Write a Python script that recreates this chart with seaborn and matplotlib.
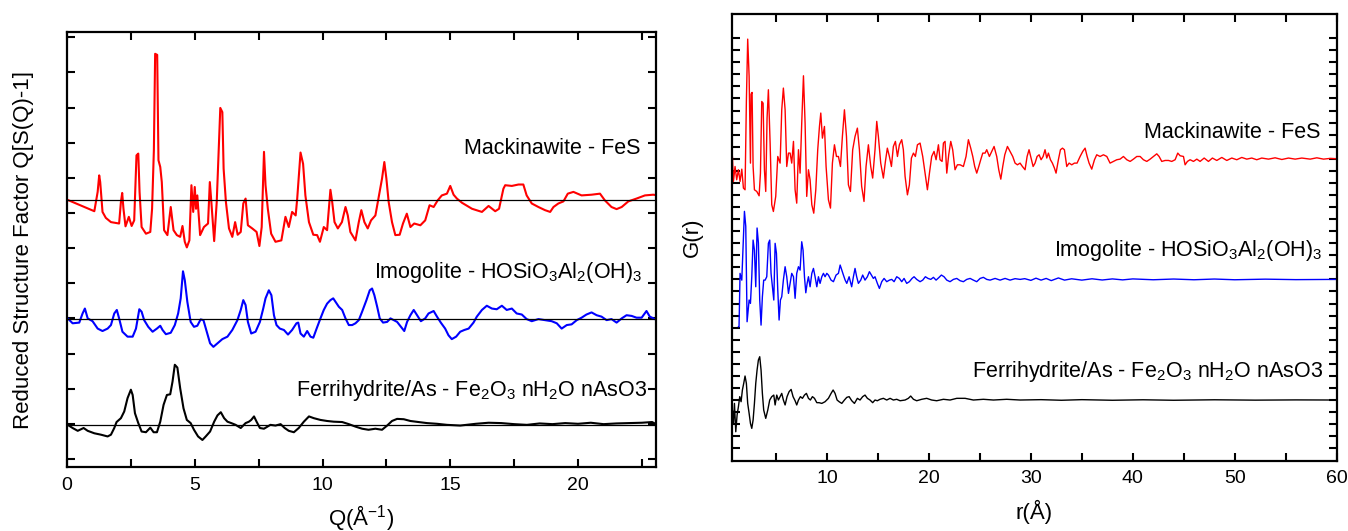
import numpy as np
import pandas as pd
import matplotlib
matplotlib.use('Agg')
import matplotlib.pyplot as plt
import seaborn as sns

# ---------------------------------------------------------------
# Reduced structure factor Q[S(Q)-1], values relative to each baseline
# ---------------------------------------------------------------
fes_q = [0.0, 1.07, 1.20, 1.26, 1.30, 1.39, 1.52, 1.72, 2.04, 2.11,
         2.16, 2.21, 2.29, 2.42, 2.53, 2.63, 2.72, 2.79, 2.84, 2.92,
         3.09, 3.26, 3.33, 3.40, 3.45, 3.53, 3.58, 3.65, 3.71, 3.80,
         3.93, 4.06, 4.17, 4.30, 4.43, 4.52, 4.61, 4.69, 4.79, 4.87,
         4.94, 5.00, 5.05, 5.10, 5.21, 5.36, 5.52, 5.59, 5.65, 5.76,
         5.86, 5.94, 6.00, 6.08, 6.13, 6.22, 6.34, 6.47, 6.58, 6.68,
         6.80, 6.90, 6.99, 7.08, 7.25, 7.42, 7.53, 7.62, 7.71, 7.77,
         7.86, 7.99, 8.16, 8.39, 8.55, 8.68, 8.81, 8.95, 9.01, 9.14,
         9.24, 9.33, 9.47, 9.64, 9.79, 9.90, 10.05, 10.18, 10.31, 10.38,
         10.47, 10.60, 10.76, 10.90, 10.99, 11.09, 11.29, 11.42, 11.52, 11.64,
         11.77, 11.90, 12.07, 12.20, 12.33, 12.42, 12.50, 12.59, 12.72, 12.85,
         13.02, 13.15, 13.30, 13.44, 13.59, 13.83, 14.02, 14.19, 14.35, 14.51,
         14.67, 14.87, 15.00, 15.13, 15.26, 15.46, 15.85, 16.24, 16.50, 16.76,
         16.91, 17.08, 17.15, 17.41, 17.67, 17.86, 17.99, 18.19, 18.45, 18.71,
         18.91, 19.04, 19.23, 19.43, 19.60, 19.82, 20.14, 20.53, 20.86, 21.05,
         21.31, 21.51, 21.71, 21.97, 22.29, 22.62, 22.94, 23.16]
fes_s = [0.00, -0.33, 0.22, 0.69, 0.50, -0.35, -0.52, -0.64, -0.68, -0.07,
         0.19, -0.26, -0.76, -0.49, -0.75, -0.59, 1.26, 1.31, 0.22, -0.78,
         -0.97, -0.92, -0.26, 1.40, 4.15, 4.12, 1.12, 0.93, 0.50, -0.87,
         -1.01, -0.21, -0.87, -1.01, -1.06, -0.75, -1.20, -1.36, -1.16, 0.41,
         -0.35, 0.36, -0.26, 0.12, -1.01, -0.78, -0.68, 0.50, -0.07, -1.18,
         -0.07, 1.45, 2.61, 2.49, 0.88, -0.07, -0.82, -1.06, -0.64, -1.00,
         -0.92, -0.11, 0.03, -0.73, -0.82, -0.92, -1.32, -0.78, 1.36, 0.41,
         -0.26, -0.97, -1.20, -1.16, -0.49, -0.78, -0.35, -0.45, 0.03, 1.34,
         1.02, 0.12, -0.64, -1.00, -1.01, -1.20, -0.78, -0.87, 0.28, -0.07,
         -0.64, -0.82, -0.64, -0.21, -0.45, -0.92, -1.16, -0.64, -0.30, -0.64,
         -0.82, -0.59, -0.45, 0.08, 0.60, 1.07, 0.60, -0.07, -0.64, -1.01,
         -1.00, -0.68, -0.40, -0.78, -0.68, -0.73, -0.59, -0.16, -0.21, -0.02,
         0.12, 0.17, 0.39, 0.14, 0.03, -0.09, -0.26, -0.35, -0.18, -0.33,
         -0.26, 0.31, 0.41, 0.39, 0.43, 0.43, 0.12, -0.11, -0.21, -0.30,
         -0.35, -0.21, -0.11, -0.05, 0.17, 0.22, 0.12, 0.14, 0.17, -0.02,
         -0.21, -0.27, -0.21, -0.05, 0.03, 0.12, 0.14, 0.12]

imo_q = [0.03, 0.22, 0.48, 0.61, 0.70, 0.81, 1.00, 1.20, 1.39, 1.59,
         1.72, 1.85, 1.95, 2.04, 2.17, 2.37, 2.57, 2.70, 2.83, 2.92,
         3.02, 3.18, 3.35, 3.52, 3.65, 3.74, 3.87, 4.06, 4.22, 4.35,
         4.45, 4.54, 4.61, 4.71, 4.84, 4.97, 5.10, 5.23, 5.34, 5.47,
         5.60, 5.73, 5.89, 6.08, 6.28, 6.47, 6.67, 6.80, 6.90, 6.99,
         7.08, 7.21, 7.38, 7.55, 7.68, 7.77, 7.90, 8.00, 8.10, 8.20,
         8.33, 8.49, 8.65, 8.81, 8.98, 9.05, 9.14, 9.27, 9.40, 9.53,
         9.64, 9.77, 9.92, 10.05, 10.18, 10.31, 10.42, 10.51, 10.64, 10.77,
         10.90, 11.03, 11.16, 11.29, 11.42, 11.55, 11.72, 11.85, 11.94, 12.03,
         12.14, 12.24, 12.37, 12.53, 12.66, 12.79, 12.92, 13.07, 13.20, 13.31,
         13.44, 13.57, 13.70, 13.85, 14.02, 14.15, 14.35, 14.48, 14.63, 14.80,
         14.93, 15.06, 15.23, 15.39, 15.55, 15.72, 15.91, 16.04, 16.24, 16.43,
         16.63, 16.82, 17.02, 17.21, 17.41, 17.60, 17.80, 17.99, 18.19, 18.45,
         18.71, 18.97, 19.17, 19.36, 19.56, 19.75, 19.95, 20.14, 20.33, 20.53,
         20.73, 20.92, 21.12, 21.31, 21.51, 21.71, 21.90, 22.10, 22.29, 22.49,
         22.68, 22.81, 23.01, 23.16]
imo_s = [0.03, -0.11, -0.09, 0.17, 0.31, 0.03, -0.05, -0.26, -0.33, -0.26,
         -0.16, 0.17, 0.27, 0.03, -0.35, -0.49, -0.49, -0.26, 0.29, 0.22,
         -0.02, -0.21, -0.35, -0.26, -0.18, -0.30, -0.42, -0.38, -0.16, 0.17,
         0.60, 1.37, 1.12, 0.50, -0.07, -0.21, -0.18, 0.00, -0.02, -0.35,
         -0.68, -0.78, -0.68, -0.56, -0.49, -0.30, -0.02, 0.27, 0.55, 0.41,
         -0.07, -0.40, -0.35, -0.07, 0.31, 0.60, 0.83, 0.69, 0.12, -0.16,
         -0.26, -0.30, -0.43, -0.30, -0.11, -0.09, -0.40, -0.49, -0.33, -0.49,
         -0.52, -0.26, 0.03, 0.27, 0.45, 0.55, 0.60, 0.50, 0.36, 0.27,
         0.03, -0.16, -0.16, -0.11, -0.02, 0.22, 0.55, 0.83, 0.88, 0.69,
         0.36, 0.03, -0.09, -0.07, 0.03, -0.02, -0.07, -0.21, -0.33, -0.07,
         0.12, 0.27, 0.12, -0.05, 0.03, 0.17, 0.24, 0.08, -0.09, -0.26,
         -0.45, -0.56, -0.49, -0.35, -0.30, -0.26, -0.09, 0.08, 0.27, 0.39,
         0.31, 0.29, 0.39, 0.27, 0.31, 0.17, 0.14, 0.01, -0.05, 0.01,
         -0.02, -0.05, -0.11, -0.26, -0.16, -0.14, -0.02, 0.05, 0.14, 0.20,
         0.12, 0.08, -0.02, 0.01, -0.09, 0.03, 0.12, 0.10, 0.05, 0.05,
         0.24, 0.08, 0.01, -0.05]

ferri_q = [0.03, 0.22, 0.42, 0.65, 0.81, 1.07, 1.33, 1.59, 1.72, 1.85,
           1.94, 2.11, 2.24, 2.37, 2.50, 2.57, 2.66, 2.79, 2.92, 3.09,
           3.26, 3.39, 3.52, 3.65, 3.78, 3.91, 4.04, 4.13, 4.22, 4.32,
           4.43, 4.56, 4.69, 4.84, 4.97, 5.13, 5.30, 5.43, 5.60, 5.76,
           5.89, 6.02, 6.15, 6.28, 6.43, 6.60, 6.80, 6.99, 7.12, 7.21,
           7.32, 7.42, 7.55, 7.71, 7.96, 8.16, 8.36, 8.52, 8.68, 8.88,
           9.07, 9.27, 9.47, 9.66, 9.92, 10.18, 10.44, 10.77, 11.03, 11.29,
           11.55, 11.80, 12.07, 12.33, 12.53, 12.72, 12.92, 13.18, 13.44, 13.76,
           14.09, 14.48, 14.87, 15.39, 16.0, 16.5, 17.0, 17.5, 18.0, 18.5,
           19.0, 19.5, 20.0, 20.5, 21.0, 21.5, 22.0, 22.5, 22.9, 23.16]
ferri_s = [0.00, -0.09, -0.17, -0.09, -0.17, -0.24, -0.28, -0.33, -0.28, -0.09,
           0.08, 0.19, 0.38, 0.76, 1.00, 0.85, 0.33, 0.05, -0.19, -0.21,
           -0.08, -0.21, -0.21, 0.09, 0.57, 0.85, 0.87, 1.23, 1.71, 1.63,
           1.04, 0.47, 0.14, 0.05, -0.14, -0.33, -0.43, -0.33, -0.19, 0.09,
           0.27, 0.36, 0.19, 0.09, 0.05, 0.00, -0.09, 0.05, 0.09, 0.14,
           0.24, 0.09, -0.09, -0.11, 0.00, -0.02, 0.02, -0.09, -0.17, -0.21,
           -0.09, 0.09, 0.24, 0.19, 0.14, 0.11, 0.09, 0.08, 0.02, -0.05,
           -0.11, -0.14, -0.11, -0.14, -0.02, 0.11, 0.17, 0.16, 0.11, 0.08,
           0.05, 0.03, 0.00, -0.02, 0.03, 0.06, 0.05, 0.02, 0.00, 0.04,
           0.02, 0.05, 0.03, 0.06, 0.02, 0.04, 0.05, 0.06, 0.08, -0.02]

# ---------------------------------------------------------------
# Pair distribution function G(r), values relative to each baseline
# ---------------------------------------------------------------
fes_r = [0.72, 0.82, 0.98, 1.14, 1.31, 1.47, 1.64, 1.80, 1.96, 2.09,
         2.22, 2.36, 2.49, 2.55, 2.65, 2.75, 2.88, 3.11, 3.34, 3.47,
         3.60, 3.73, 3.86, 3.99, 4.12, 4.25, 4.42, 4.58, 4.74, 4.97,
         5.17, 5.40, 5.56, 5.72, 5.89, 6.05, 6.22, 6.38, 6.54, 6.71,
         6.87, 7.03, 7.20, 7.36, 7.52, 7.69, 7.85, 8.01, 8.18, 8.34,
         8.51, 8.70, 8.90, 9.09, 9.26, 9.39, 9.55, 9.75, 9.91, 10.14,
         10.34, 10.53, 10.73, 10.93, 11.12, 11.32, 11.51, 11.71, 11.91, 12.10,
         12.30, 12.52, 12.75, 12.98, 13.18, 13.40, 13.63, 13.83, 14.06, 14.29,
         14.48, 14.71, 14.88, 15.04, 15.27, 15.53, 15.73, 15.92, 16.12, 16.32,
         16.51, 16.71, 16.91, 17.10, 17.33, 17.49, 17.66, 17.89, 18.08, 18.28,
         18.48, 18.67, 18.87, 19.13, 19.39, 19.62, 19.85, 20.05, 20.27, 20.50,
         20.70, 20.93, 21.09, 21.29, 21.42, 21.58, 21.75, 21.94, 22.14, 22.33,
         22.56, 22.79, 23.06, 23.38, 23.64, 23.87, 24.10, 24.30, 24.49, 24.69,
         24.89, 25.08, 25.28, 25.51, 25.67, 25.93, 26.16, 26.39, 26.65, 26.85,
         27.05, 27.24, 27.44, 27.70, 27.96, 28.22, 28.45, 28.68, 28.94, 29.17,
         29.43, 29.63, 29.82, 30.02, 30.22, 30.41, 30.61, 30.81, 31.00, 31.20,
         31.39, 31.56, 31.72, 31.92, 32.11, 32.31, 32.47, 32.70, 32.90, 33.10,
         33.29, 33.52, 33.75, 34.01, 34.27, 34.53, 34.83, 35.09, 35.32, 35.52,
         35.71, 35.97, 36.24, 36.46, 36.79, 37.12, 37.45, 37.77, 38.10, 38.43,
         38.75, 39.08, 39.41, 39.74, 40.06, 40.39, 40.72, 41.04, 41.37, 41.70,
         42.03, 42.35, 42.58, 42.84, 43.17, 43.50, 43.82, 44.15, 44.41, 44.64,
         44.97, 45.13, 45.36, 45.62, 45.95, 46.28, 46.60, 47.00, 47.42, 47.81,
         48.24, 48.73, 49.22, 49.71, 50.20, 50.69, 51.18, 51.67, 52.16, 52.65,
         53.31, 53.96, 54.62, 55.27, 55.93, 56.58, 57.40, 58.05, 58.71, 59.36,
         60.0]
fes_g = [0.19, -1.88, -0.64, -1.74, -0.91, -1.88, -0.86, -2.43, -2.57, 4.75,
         9.92, 6.83, -0.36, 5.36, 5.50, -0.64, -2.57, -2.71, -3.07, -1.19,
         4.75, 4.61, -0.91, -2.71, 3.37, 5.72, 1.30, -3.81, -4.37, -3.12,
         0.19, -0.36, 4.06, 5.86, 4.06, -0.64, 0.47, 0.47, -0.36, 1.44,
         -2.57, -3.68, 0.75, -1.19, 2.95, 6.88, 2.95, -3.12, -0.91, -1.74,
         -3.81, -4.51, -2.57, 0.75, 2.68, 3.79, 1.71, 2.68, -0.64, -3.40,
         -4.09, -0.36, 1.16, 0.19, 0.19, -0.64, 1.85, 4.06, 1.85, -2.16,
         -2.71, 0.75, 1.85, 2.54, 0.75, -2.29, -3.54, -0.64, 1.16, -0.64,
         -1.60, 0.75, 3.10, 1.85, -0.36, -1.60, -0.22, 0.88, 0.19, -0.64,
         1.02, 1.44, 0.19, 1.16, 1.58, 0.75, -1.46, -2.99, -2.16, 0.06,
         0.47, 0.19, 1.16, 1.30, 0.19, -1.19, -2.57, -1.19, 0.19, 0.61,
         -0.08, 1.16, -0.08, -0.22, 1.30, 1.44, -1.19, 0.33, 1.44, 0.75,
         -0.91, -0.50, -0.50, -0.64, 0.19, 1.58, 0.88, 0.19, -0.64, -1.19,
         -0.64, -0.08, 0.47, 0.47, 0.75, 0.19, 0.61, 1.02, 0.19, -0.91,
         -1.69, -0.64, 0.33, 1.02, 0.61, 0.19, -0.36, -0.50, -0.36, -0.64,
         -0.91, 0.19, 0.75, 0.06, -0.64, -0.36, 0.19, 0.33, -0.08, 0.19,
         0.75, 0.06, 0.47, -0.08, -0.36, -0.77, -1.19, -0.08, 0.75, 0.88,
         0.75, -0.64, -0.36, -0.50, -0.36, -0.36, 0.19, 0.61, 0.88, 0.19,
         -0.36, -0.86, -0.08, 0.33, 0.19, 0.33, 0.19, -0.36, -0.22, -0.08,
         -0.03, 0.19, -0.08, -0.22, -0.03, 0.19, 0.19, -0.08, -0.22, -0.03,
         0.19, 0.41, 0.19, -0.22, -0.14, -0.14, -0.22, -0.08, 0.47, 0.25,
         0.19, -0.50, -0.22, -0.08, -0.22, -0.03, -0.22, 0.06, -0.22, 0.06,
         -0.14, 0.11, -0.14, 0.06, -0.08, 0.11, -0.03, 0.06, -0.08, 0.06,
         -0.03, 0.08, -0.06, 0.06, -0.03, 0.06, -0.03, 0.08, -0.03, 0.03,
         0.00]

imo_r = [1.30, 1.37, 1.47, 1.64, 1.80, 1.90, 2.03, 2.16, 2.36, 2.49,
         2.62, 2.75, 2.88, 3.01, 3.14, 3.27, 3.40, 3.53, 3.66, 3.79,
         3.93, 4.09, 4.25, 4.38, 4.51, 4.65, 4.78, 4.91, 5.04, 5.17,
         5.30, 5.43, 5.56, 5.72, 5.89, 6.05, 6.22, 6.38, 6.54, 6.71,
         6.87, 7.03, 7.20, 7.36, 7.52, 7.65, 7.79, 7.92, 8.05, 8.18,
         8.34, 8.51, 8.67, 8.83, 9.00, 9.16, 9.32, 9.49, 9.65, 9.81,
         9.98, 10.14, 10.40, 10.63, 10.89, 11.12, 11.29, 11.45, 11.61, 11.78,
         11.94, 12.17, 12.42, 12.59, 12.75, 12.91, 13.08, 13.31, 13.50, 13.73,
         13.96, 14.16, 14.35, 14.55, 14.71, 14.94, 15.14, 15.37, 15.60, 15.86,
         16.12, 16.35, 16.58, 16.84, 17.10, 17.33, 17.56, 17.82, 18.08, 18.34,
         18.54, 18.80, 19.13, 19.39, 19.65, 19.91, 20.18, 20.44, 20.70, 20.96,
         21.22, 21.48, 21.75, 22.07, 22.40, 22.73, 23.06, 23.38, 23.71, 24.04,
         24.36, 24.69, 25.02, 25.34, 25.67, 26.00, 26.49, 26.98, 27.47, 27.96,
         28.45, 28.94, 29.4, 30.0, 30.5, 31.0, 31.5, 32.0, 32.7, 33.3,
         34.0, 35.0, 36.0, 37.0, 38.0, 39.0, 40.0, 42.0, 44.0, 46.0,
         48.0, 50.0, 53.0, 56.0, 60.0]
imo_g = [-3.92, -3.92, 0.50, -0.06, 3.54, 5.64, 4.40, -3.51, -1.71, -1.99,
         0.22, 3.26, 2.43, -0.61, 4.26, 3.03, -1.71, -3.79, -1.44, -0.06,
         -0.06, 0.22, 2.99, 3.26, 0.50, -0.61, -1.71, 2.99, 2.16, -0.88,
         -3.37, -1.71, -1.44, -0.06, 1.05, 0.22, -1.16, -0.33, 0.50, 0.22,
         -1.57, 0.50, 1.05, 0.77, 3.12, 2.43, 0.22, -1.11, -0.33, 0.22,
         -0.61, 0.50, 0.91, 0.22, -0.61, 0.22, -0.33, 0.22, 0.50, 0.22,
         0.50, 0.36, -0.06, -0.19, 0.36, 0.50, 1.19, 0.77, 0.36, -0.06,
         -0.33, 0.22, -0.61, 0.22, 0.91, 0.22, -0.33, -0.06, 0.36, -0.06,
         0.22, 0.64, 0.36, 0.08, 0.22, -0.33, -0.75, -0.19, 0.08, -0.19,
         -0.06, 0.00, -0.19, 0.22, 0.08, -0.19, 0.08, -0.33, -0.19, 0.08,
         0.22, 0.00, -0.19, -0.06, 0.22, 0.08, 0.00, 0.17, -0.06, 0.14,
         0.36, 0.22, -0.06, -0.19, 0.00, 0.08, -0.11, -0.19, 0.00, 0.08,
         -0.06, -0.19, 0.08, 0.17, 0.00, -0.06, 0.08, -0.06, 0.08, -0.06,
         0.06, 0.00, 0.06, -0.08, 0.10, -0.06, 0.08, -0.10, 0.12, -0.06,
         0.05, -0.06, 0.05, -0.05, 0.04, -0.04, 0.04, -0.03, 0.03, -0.03,
         0.03, -0.03, 0.02, -0.02, 0.00]

ferri_r = [0.72, 0.82, 0.92, 1.05, 1.18, 1.31, 1.44, 1.57, 1.70, 1.83,
           1.96, 2.09, 2.22, 2.36, 2.49, 2.62, 2.75, 2.88, 3.01, 3.14,
           3.27, 3.40, 3.53, 3.66, 3.79, 3.99, 4.19, 4.38, 4.58, 4.78,
           4.91, 5.07, 5.23, 5.40, 5.56, 5.72, 5.89, 6.08, 6.28, 6.48,
           6.67, 6.87, 7.03, 7.20, 7.39, 7.59, 7.79, 7.98, 8.18, 8.37,
           8.57, 8.77, 9.00, 9.22, 9.49, 9.81, 10.14, 10.40, 10.60, 10.79,
           10.99, 11.19, 11.45, 11.71, 11.94, 12.17, 12.43, 12.69, 12.98, 13.24,
           13.50, 13.73, 13.96, 14.22, 14.48, 14.71, 14.94, 15.20, 15.53, 15.86,
           16.19, 16.51, 16.84, 17.17, 17.66, 17.98, 18.21, 18.48, 18.80, 19.29,
           19.78, 20.27, 20.76, 21.42, 22.07, 22.73, 23.55, 24.36, 25.34, 26.33,
           27.63, 28.94, 31.0, 33.0, 35.0, 38.0, 41.0, 44.0, 48.0, 52.0,
           56.0, 60.0]
ferri_g = [-0.83, -1.94, -0.28, -2.63, -1.24, -0.55, 0.28, -0.14, 0.83, 1.38,
           1.99, 1.38, -0.28, -1.11, -1.94, -2.35, -1.66, -0.28, 1.38, 2.49,
           3.32, 3.59, 2.49, 0.55, -0.83, -1.52, -0.83, 0.00, 0.28, 0.41,
           -0.41, 0.41, 0.00, 0.28, 0.55, 0.00, -0.41, 0.28, 0.69, 0.88,
           0.28, -0.06, -0.41, 0.00, 0.28, 0.14, 0.41, 0.55, 0.14, 0.00,
           0.28, 0.14, -0.22, -0.22, -0.28, -0.14, 0.14, 0.55, 0.83, 0.55,
           0.00, -0.14, -0.28, 0.00, 0.22, 0.28, -0.06, -0.28, 0.14, 0.00,
           0.28, 0.41, 0.14, 0.00, -0.22, 0.00, -0.06, 0.06, 0.14, 0.00,
           0.14, 0.00, 0.06, -0.06, 0.00, 0.14, 0.33, 0.06, -0.06, 0.06,
           0.14, 0.00, -0.06, 0.06, 0.00, 0.14, 0.14, 0.00, 0.06, 0.00,
           0.06, 0.00, 0.03, -0.02, 0.03, -0.02, 0.02, -0.02, 0.02, -0.01,
           0.01, 0.00]

# vertical offsets of the stacked curves
sq_offsets = {'fes': 7.38, 'imo': 3.97, 'ferri': 0.97}
gr_offsets = {'fes': 24.0, 'imo': 14.0, 'ferri': 4.0}

labels = {
    'fes': 'Mackinawite - FeS',
    'imo': 'Imogolite - HOSiO$_3$Al$_2$(OH)$_3$',
    'ferri': 'Ferrihydrite/As - Fe$_2$O$_3$ nH$_2$O nAsO3',
}
colors = {'fes': '#ff0000', 'imo': '#0000ff', 'ferri': '#000000'}

sns.set_style('ticks')
plt.rcParams['font.family'] = ['Liberation Sans', 'DejaVu Sans']
plt.rcParams['mathtext.fontset'] = 'custom'
plt.rcParams['mathtext.rm'] = 'Liberation Sans'
plt.rcParams['mathtext.it'] = 'Liberation Sans:italic'
plt.rcParams['mathtext.bf'] = 'Liberation Sans:bold'
plt.rcParams['text.color'] = 'black'
plt.rcParams['axes.labelcolor'] = 'black'

fig = plt.figure(figsize=(13.48, 5.31), dpi=100)
ax1 = fig.add_axes([0.0497, 0.1205, 0.4369, 0.8192])
ax2 = fig.add_axes([0.5428, 0.1324, 0.4488, 0.8412])

# Left panel: reduced structure factor
sq_data = {'fes': (fes_q, fes_s), 'imo': (imo_q, imo_s), 'ferri': (ferri_q, ferri_s)}
for key, (q, s) in sq_data.items():
    df = pd.DataFrame({'Q': q, 'S': np.array(s) + sq_offsets[key]})
    sns.lineplot(data=df, x='Q', y='S', color=colors[key], lw=1.5,
                 estimator=None, sort=False, ax=ax1)
    ax1.axhline(sq_offsets[key], color='black', lw=0.9, zorder=5)

ax1.text(22.45, 8.84, labels['fes'], ha='right', va='center', fontsize=15.5)
ax1.text(22.5, 5.32, labels['imo'], ha='right', va='center', fontsize=15.5)
ax1.text(22.7, 1.96, labels['ferri'], ha='right', va='center', fontsize=15.5)

ax1.set_xlim(0, 23.05)
ax1.set_ylim(-0.23, 12.15)
qt = np.arange(0, 23.1, 2.5)
ax1.set_xticks(qt)
ax1.set_xticklabels([f'{t:g}' if t % 5 == 0 else '' for t in qt])
ax1.set_yticks(np.arange(0, 13))
ax1.set_yticklabels([])
ax1.set_xlabel('Q(Å$^{-1}$)', fontsize=16, labelpad=7)
ax1.set_ylabel('Reduced Structure Factor Q[S(Q)-1]', fontsize=16, labelpad=17)

# Right panel: pair distribution function
gr_data = {'fes': (fes_r, fes_g), 'imo': (imo_r, imo_g), 'ferri': (ferri_r, ferri_g)}
for key, (r, g) in gr_data.items():
    df = pd.DataFrame({'r': r, 'G': np.array(g) + gr_offsets[key]})
    sns.lineplot(data=df, x='r', y='G', color=colors[key], lw=1.0,
                 estimator=None, sort=False, ax=ax2)

ax2.text(58.38, 26.14, labels['fes'], ha='right', va='center', fontsize=15.5)
ax2.text(58.58, 16.42, labels['imo'], ha='right', va='center', fontsize=15.5)
ax2.text(58.68, 6.33, labels['ferri'], ha='right', va='center', fontsize=15.5)

ax2.set_xlim(0.65, 60)
ax2.set_ylim(-1.03, 36.0)
rt = np.arange(5, 61, 5)
ax2.set_xticks(rt)
ax2.set_xticklabels([f'{t:g}' if t % 10 == 0 else '' for t in rt])
ax2.set_yticks(np.arange(0, 35))
ax2.set_yticklabels([])
ax2.set_xlabel('r(Å)', fontsize=16, labelpad=9)
ax2.set_ylabel('G(r)', fontsize=16, labelpad=14)

for ax in (ax1, ax2):
    ax.tick_params(direction='in', top=True, right=True, length=6, width=1.5,
                   labelsize=14, colors='black', pad=7)
    for sp in ax.spines.values():
        sp.set_linewidth(1.6)
        sp.set_color('black')

fig.savefig('out.png', dpi=100)
